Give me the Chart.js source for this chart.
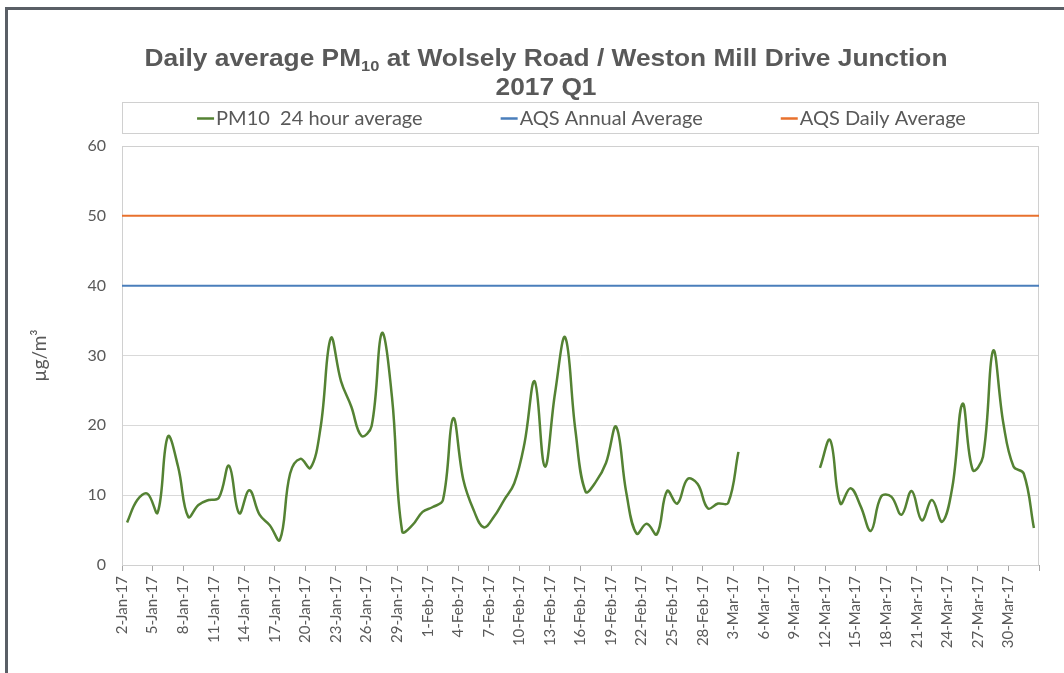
<!DOCTYPE html>
<html>
<head>
<meta charset="utf-8">
<script src="https://cdn.jsdelivr.net/npm/chart.js@4.4.0/dist/chart.umd.min.js"></script>
<style>
html, body { margin: 0; padding: 0; background: #fff; }
#wrap { width: 1064px; height: 673px; }
</style>
</head>
<body>
<div id="wrap"><canvas id="myChart" width="1064" height="673"></canvas></div>
<script>
/*DATA*/
// PM10 24 hour average, one value per day from 2-Jan-17 to 1-Apr-17 (null = no data)
const pm10 = [
    6.1, 9.3, 10.2, 7.5, 18.4, 14.1, 6.9, 8.6, 9.3, 9.6,
    14.2, 7.4, 10.7, 7.2, 5.7, 3.6, 13.1, 15.2, 13.9, 19.8,
    32.5, 26.3, 22.7, 18.5, 19.9, 33.2, 24.0, 4.8, 5.7, 7.6,
    8.3, 9.3, 21.0, 12.2, 7.9, 5.4, 6.9, 9.3, 11.7, 17.4,
    26.3, 14.1, 24.6, 32.6, 19.3, 10.5, 11.9, 14.6, 19.8, 10.3,
    4.5, 5.9, 4.4, 10.6, 8.8, 12.3, 11.6, 8.1, 8.8, 8.9,
    16.2, null, null, null, null, null, null, null,
    13.9, 17.9, 8.8, 11.0, 8.4, 4.9, 9.8, 9.8, 7.2, 10.6,
    6.4, 9.3, 6.2, 11.2, 23.1, 13.6, 15.5, 30.7, 20.3, 14.1,
    13.1, 5.3
]
const annualAverage = 40
const dailyAverage = 50
const yTicks = [0, 10, 20, 30, 40, 50, 60]

const monthNames = ['Jan', 'Feb', 'Mar', 'Apr']
const dates = pm10.map((v, i) => {
    const d = new Date(2017, 0, 2 + i)
    return d.getDate() + '-' + monthNames[d.getMonth()] + '-17'
})

const green = '#548233'
const blue = '#4a7ebb'
const orange = '#e8712d'
const textGrey = '#595959'

/*PLUGINS*/
const framePlugin = {
    id: 'frame',
    beforeDraw(chart){
        const c = chart.ctx
        c.save()
        c.fillStyle = '#fff'
        c.fillRect(0, 0, chart.width, chart.height)
        c.fillStyle = '#5a5f66'
        c.fillRect(5, 7, 3, chart.height - 7)
        c.fillRect(5, 7, chart.width - 5, 3)
        c.restore()
    },
    beforeDatasetsDraw(chart){
        const a = chart.chartArea, c = chart.ctx
        c.save()
        c.strokeStyle = '#d0d0d0'
        c.lineWidth = 1
        c.strokeRect(a.left + 0.5, a.top + 0.5, a.right - a.left - 1, a.bottom - a.top)
        c.restore()
    }
}

// title with a real subscript, stretched a little to the width of the original
const titlePlugin = {
    id: 'fancyTitle',
    afterDraw(chart){
        const c = chart.ctx
        const big = 'bold 24px "Liberation Sans", Arial, sans-serif'
        const small = 'bold 15px "Liberation Sans", Arial, sans-serif'
        const parts = [
            ['Daily average PM', big, 0],
            ['10', small, 5],
            [' at Wolsely Road / Weston Mill Drive Junction', big, 0]
        ]
        c.save()
        c.fillStyle = textGrey
        c.textBaseline = 'alphabetic'
        let w = 0
        parts.forEach(p => { c.font = p[1]; w += c.measureText(p[0]).width })
        const sx = 803 / w
        c.translate(546, 0)
        c.scale(sx, 1)
        let x = -w / 2
        parts.forEach(p => {
            c.font = p[1]
            c.textAlign = 'left'
            c.fillText(p[0], x, 66 + p[2])
            x += c.measureText(p[0]).width
        })
        c.font = big
        c.textAlign = 'center'
        c.fillText('2017 Q1', 0, 95)
        c.restore()
    }
}

const legendPlugin = {
    id: 'boxLegend',
    afterDraw(chart){
        const c = chart.ctx, a = chart.chartArea
        const top = 102, h = 31
        c.save()
        c.strokeStyle = '#d0d0d0'
        c.lineWidth = 1
        c.strokeRect(a.left + 0.5, top + 0.5, a.right - a.left - 1, h)
        c.font = '20px Lato, sans-serif'
        c.textBaseline = 'middle'
        c.textAlign = 'left'
        const items = chart.data.datasets.map(ds => ({text: ds.label, color: ds.borderColor, w: 19 + c.measureText(ds.label).width}))
        const gap = 78
        let total = items.reduce((s, it) => s + it.w, 0) + gap * (items.length - 1)
        let x = (a.left + a.right) / 2 + 1 - total / 2
        const yMid = top + h / 2 + 1
        items.forEach(it => {
            c.strokeStyle = it.color
            c.lineWidth = 2.5
            c.beginPath()
            c.moveTo(x, yMid)
            c.lineTo(x + 17, yMid)
            c.stroke()
            c.fillStyle = textGrey
            c.fillText(it.text, x + 19, yMid)
            x += it.w + gap
        })
        c.restore()
    }
}

/*CHART*/
const ctx = document.getElementById('myChart').getContext('2d')
const myChart = new Chart(ctx, {
    type: 'line',
    data: {
        datasets: [{
            label: 'PM10  24 hour average',
            data: pm10.map((v, i) => ({x: i + 0.5, y: v})),
            borderColor: green,
            borderWidth: 2.5,
            tension: 0.4,
            pointRadius: 0,
            spanGaps: false
        },{
            label: 'AQS Annual Average',
            data: [{x: 0, y: annualAverage}, {x: dates.length, y: annualAverage}],
            borderColor: blue,
            borderWidth: 2,
            pointRadius: 0
        },{
            label: 'AQS Daily Average',
            data: [{x: 0, y: dailyAverage}, {x: dates.length, y: dailyAverage}],
            borderColor: orange,
            borderWidth: 2,
            pointRadius: 0
        }]
    },
    options: {
        responsive: false,
        animation: false,
        layout: { padding: { top: 146, right: 25, left: 0, bottom: 0 } },
        plugins: {
            legend: { display: false },
            title: { display: false },
            tooltip: { enabled: false }
        },
        scales: {
            x: {
                type: 'linear',
                min: 0,
                max: dates.length,
                ticks: {
                    stepSize: 3,
                    autoSkip: false,
                    maxRotation: 90,
                    minRotation: 90,
                    padding: 5,
                    color: textGrey,
                    font: { family: 'Lato', size: 15 },
                    callback: v => dates[v] || ''
                },
                grid: { drawOnChartArea: false, drawTicks: true, tickLength: 6, color: '#a6a6a6' },
                border: { color: '#a6a6a6' },
                afterFit: s => { s.height = 673 - 565 }
            },
            y: {
                min: 0,
                max: 60,
                afterBuildTicks: s => { s.ticks = yTicks.map(v => ({value: v})) },
                ticks: { padding: 16, color: textGrey, font: { family: 'Lato', size: 16 } },
                grid: { color: '#d9d9d9', drawTicks: false },
                border: { display: false },
                title: {
                    display: true,
                    text: 'µg/m³',
                    color: textGrey,
                    font: { family: 'Lato', size: 19 },
                    padding: { top: 28, bottom: 0 }
                },
                afterFit: s => { s.width = 122 }
            }
        }
    },
    plugins: [framePlugin, titlePlugin, legendPlugin]
})
</script>
</body>
</html>
